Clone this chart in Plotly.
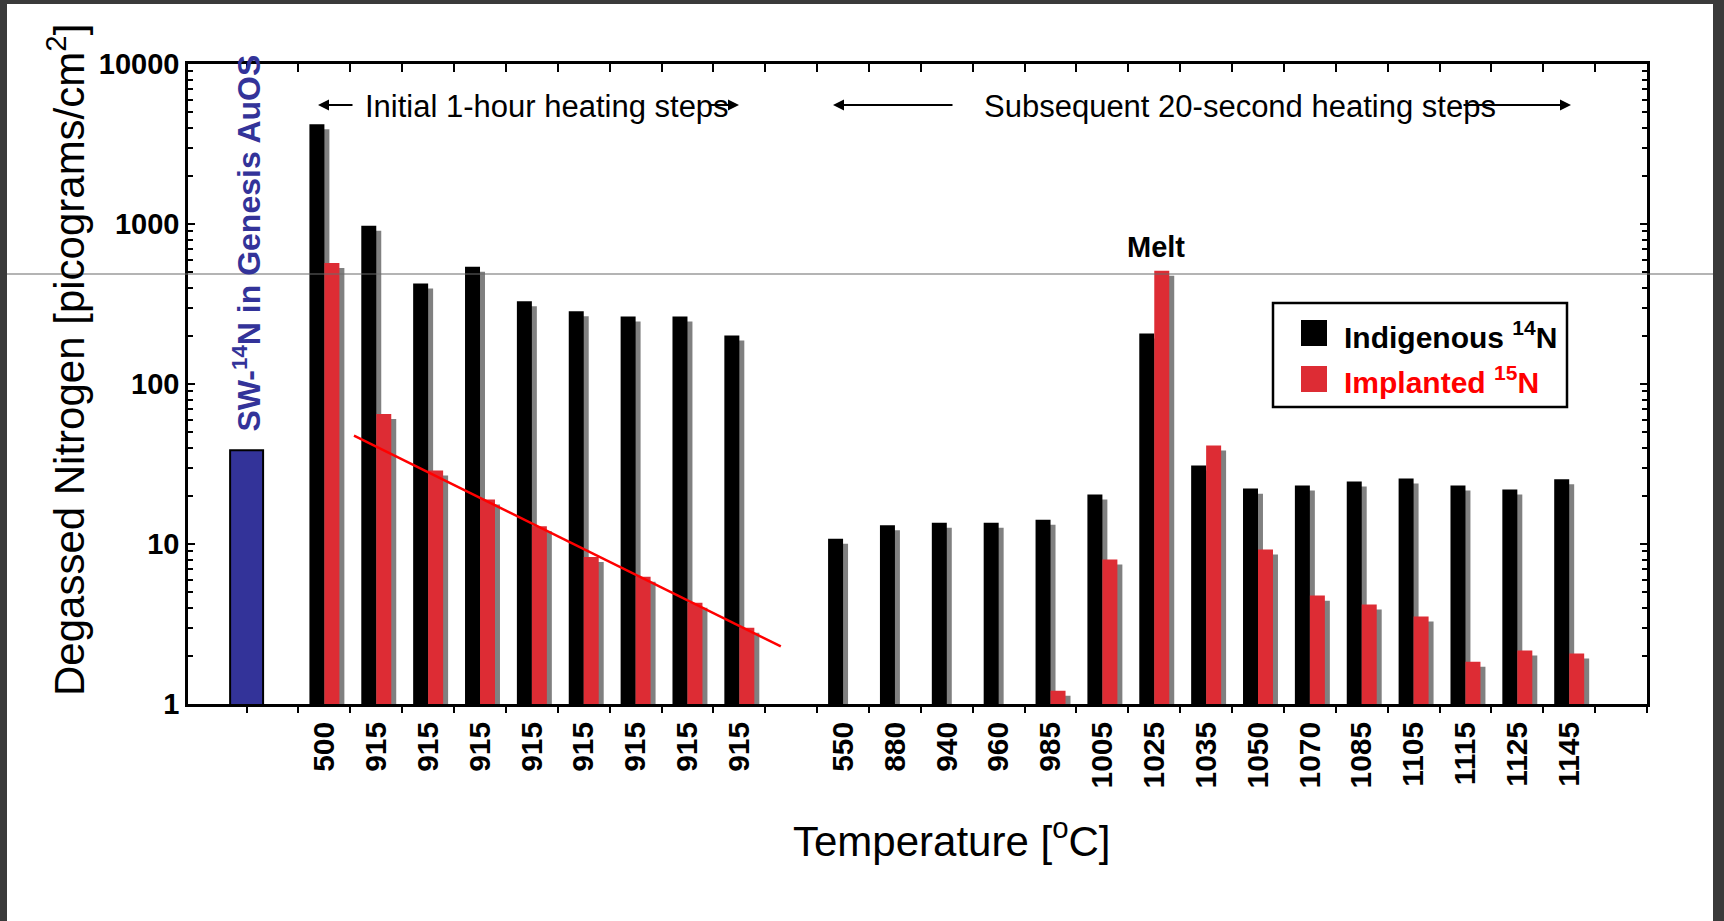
import plotly.graph_objects as go

# ---- data (picograms/cm2) ----
sw_value = 38.5  # SW-14N in Genesis AuOS

# initial 1-hour heating steps
temps_hour = ["500", "915", "915", "915", "915", "915", "915", "915", "915"]
n14_hour = [4200, 975, 425, 540, 329, 285, 264, 264, 201]
n15_hour = [570, 65, 28.8, 19.0, 12.9, 8.3, 6.25, 4.3, 3.0]

# subsequent 20-second heating steps
temps_sec = ["550", "880", "940", "960", "985", "1005", "1025", "1035",
             "1050", "1070", "1085", "1105", "1115", "1125", "1145"]
n14_sec = [10.8, 13.1, 13.6, 13.6, 14.2, 20.4, 207, 31.0,
           22.2, 23.2, 24.6, 25.7, 23.2, 21.9, 25.4]
n15_sec = [None, None, None, None, 1.21, 8.0, 510, 41.3,
           9.25, 4.76, 4.19, 3.52, 1.84, 2.16, 2.07]

# red fit line through the 915 C steps (slot position, value)
fit_x = [2.07, 10.30]
fit_y = [47.6, 2.29]

# ---- layout helpers ----
W, H = 1724, 921
L, R, T, B = 188, 1647, 64, 704   # plot area in px
FONT = "Arial, 'Liberation Sans', Helvetica, sans-serif"

BW = 0.289        # single bar width (slot units)
SH = 0.096        # shadow x-offset
SHY = 0.93        # shadow drop on log scale

def px(x, y):
    return (x - L) / (R - L), (B - y) / (B - T)

labels = temps_hour + temps_sec
pos = [1.5 + i for i in range(len(temps_hour))] + [11.5 + i for i in range(len(temps_sec))]
n14 = n14_hour + n14_sec
n15 = n15_hour + n15_sec

def drop(vals):
    return [v * SHY if v is not None else None for v in vals]

fig = go.Figure()

# drop shadows
fig.add_trace(go.Bar(x=pos, y=drop(n14), offset=-BW + SH, width=BW,
                     marker=dict(color="#808080", line_width=0), hoverinfo="skip"))
fig.add_trace(go.Bar(x=pos, y=drop(n15), offset=SH, width=BW,
                     marker=dict(color="#808080", line_width=0), hoverinfo="skip"))
# main bars
fig.add_trace(go.Bar(x=pos, y=n14, offset=-BW, width=BW, name="Indigenous 14N",
                     marker=dict(color="#000000", line_width=0)))
fig.add_trace(go.Bar(x=pos, y=n15, offset=0, width=BW, name="Implanted 15N",
                     marker=dict(color="#dd2c34", line_width=0)))
# SW reference bar
fig.add_trace(go.Bar(x=[0], y=[sw_value], width=0.636, name="SW-14N",
                     marker=dict(color="#333399", line=dict(color="black", width=2))))
# fit line
fig.add_trace(go.Scatter(x=fit_x, y=fit_y, mode="lines",
                         line=dict(color="#ff0000", width=2.5), hoverinfo="skip"))
# helpers so that tick-only axes get drawn
fig.add_trace(go.Scatter(x=[0], y=[None], xaxis="x2", hoverinfo="skip"))
fig.add_trace(go.Scatter(x=[0], y=[None], xaxis="x3", hoverinfo="skip"))

minor_vals = [m * 10 ** d for d in range(4) for m in range(2, 10)]
bounds = list(range(0, 28))

fig.update_layout(
    width=W, height=H,
    margin=dict(l=L, r=W - R, t=T, b=H - B, pad=0),
    plot_bgcolor="white", paper_bgcolor="white",
    barmode="overlay", showlegend=False,
    font=dict(family=FONT, color="black"),
    xaxis=dict(range=[-1.13, 27.0], tickvals=pos, ticktext=labels, tickangle=-90,
               tickfont=dict(size=30, weight="bold", color="black"),
               ticks="", ticklabelstandoff=3,
               showline=True, linecolor="black", linewidth=2.5, mirror=True,
               showgrid=False, zeroline=False),
    xaxis2=dict(overlaying="x", matches="x", anchor="y", side="bottom",
                tickvals=bounds, ticks="outside", ticklen=8, tickwidth=2, tickcolor="black",
                showticklabels=False, showline=False, showgrid=False, zeroline=False),
    xaxis3=dict(overlaying="x", matches="x", anchor="y", side="top",
                tickvals=bounds, ticks="inside", ticklen=8, tickwidth=2, tickcolor="black",
                showticklabels=False, showline=False, showgrid=False, zeroline=False),
    yaxis=dict(type="log", range=[0, 4],
               tickvals=[1, 10, 100, 1000, 10000],
               ticktext=["1", "10", "100", "1000", "10000"],
               tickfont=dict(size=29, weight="bold", color="black"),
               ticks="inside", ticklen=7, tickwidth=2, tickcolor="black",
               ticklabelstandoff=0,
               showline=True, linecolor="black", linewidth=2.5, mirror="ticks",
               showgrid=False, zeroline=False,
               minor=dict(ticks="inside", ticklen=5, tickwidth=2, tickcolor="black",
                          tickvals=minor_vals, showgrid=False)),
)

ann = []

def text_px(x, y, text, size, **kw):
    xp, yp = px(x, y)
    d = dict(x=xp, y=yp, xref="paper", yref="paper", text=text, showarrow=False,
             xanchor="center", yanchor="middle",
             font=dict(family=FONT, size=size, color=kw.pop("color", "black"),
                       weight=kw.pop("weight", "normal")))
    d.update(kw)
    ann.append(d)

text_px(66, 360, "Degassed Nitrogen [picograms/cm<sup>2</sup>]", 42, textangle=-90)
text_px(951, 838, "Temperature [<sup>o</sup>C]", 42)
text_px(1156, 247, "Melt", 29, weight="bold")
text_px(363, 107, "Initial 1-hour heating steps", 31, xanchor="left")
text_px(982, 107, "Subsequent 20-second heating steps", 31, xanchor="left")
text_px(1342, 335, "Indigenous <sup>14</sup>N", 30, weight="bold", xanchor="left")
text_px(1342, 380, "Implanted <sup>15</sup>N", 30, weight="bold", xanchor="left", color="#ff0000")

# blue rotated label over SW bar
ann.append(dict(x=0, y=px(0, 243)[1], xref="x", yref="paper", showarrow=False, textangle=-90,
                xanchor="center", yanchor="middle",
                text="SW-<sup>14</sup>N in Genesis AuOS",
                font=dict(family=FONT, size=32, color="#333399", weight="bold")))

# arrows (head px, tail px)
for head, tail in [(318, 354), (739, 708), (833, 954), (1571, 1462)]:
    hx, hy = px(head, 105)
    ann.append(dict(x=hx, y=hy, xref="paper", yref="paper", text="", showarrow=True,
                    ax=tail - head, ay=0, arrowhead=2, arrowsize=1.1, arrowwidth=2,
                    arrowcolor="black"))

fig.update_layout(annotations=ann)

shapes = []

def rect_px(x0, y0, x1, y1, **kw):
    a, b = px(x0, y1)
    c, d = px(x1, y0)
    s = dict(type="rect", xref="paper", yref="paper", x0=a, y0=b, x1=c, y1=d)
    s.update(kw)
    shapes.append(s)

# legend box + swatches
rect_px(1273, 303, 1567, 407, line=dict(color="black", width=2.5), fillcolor="rgba(0,0,0,0)")
rect_px(1301, 320, 1327, 346, line_width=0, fillcolor="#000000")
rect_px(1301, 366, 1327, 392, line_width=0, fillcolor="#dd2c34")

# page frame
rect_px(0, 0, 7, H, line_width=0, fillcolor="#3a3a3a")
rect_px(0, 0, W, 4, line_width=0, fillcolor="#3a3a3a")
rect_px(1713, 0, W, H, line_width=0, fillcolor="#3a3a3a")

# thin grey rule across the page
x0, yl = px(7, 274)
x1, _ = px(1713, 274)
shapes.append(dict(type="line", xref="paper", yref="paper", x0=x0, x1=x1, y0=yl, y1=yl,
                   line=dict(color="#6a6a6a", width=1.2), layer="above"))

fig.update_layout(shapes=shapes)

fig.write_html("out.html", config={"displayModeBar": False},
               post_script="document.body.style.margin='0';")
